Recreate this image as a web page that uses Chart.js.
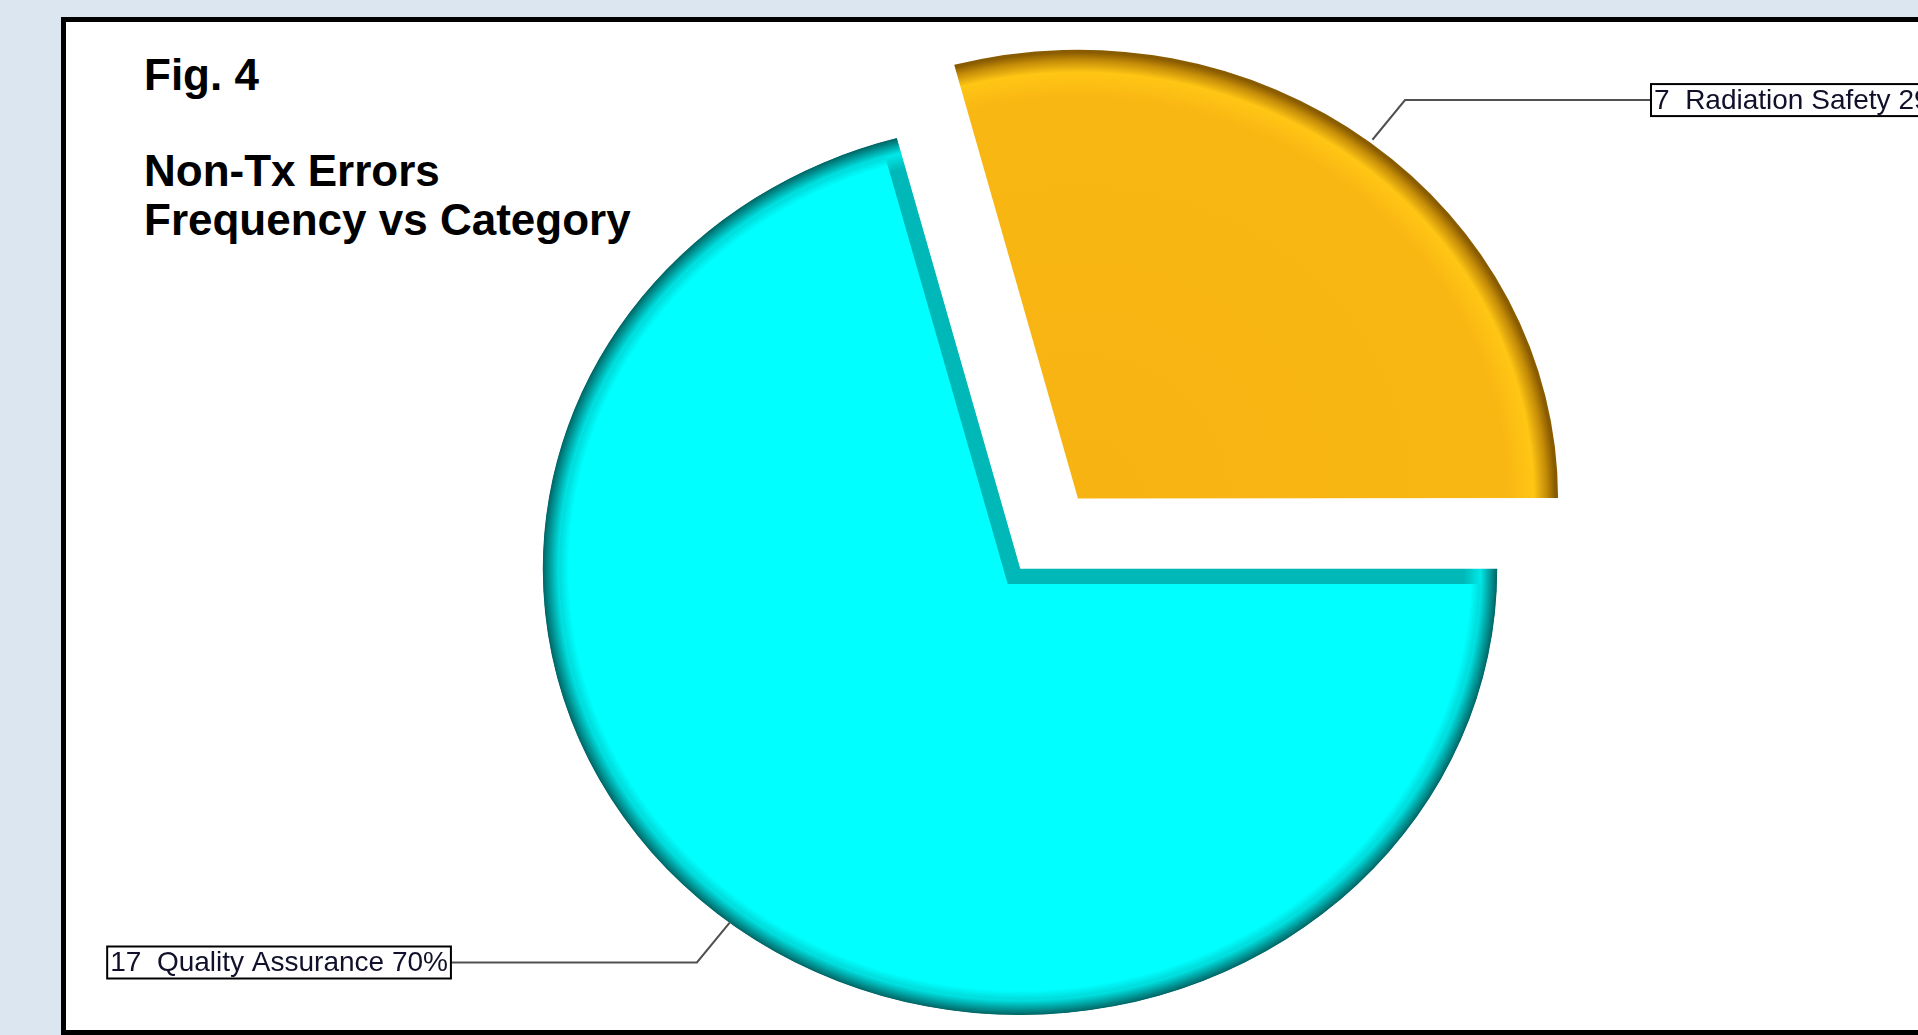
<!DOCTYPE html>
<html>
<head>
<meta charset="utf-8">
<title>Fig. 4 - Non-Tx Errors</title>
<script src="https://cdn.jsdelivr.net/npm/chart.js@4.4.1/dist/chart.umd.min.js"></script>
<style>
  html, body { margin: 0; padding: 0; width: 1918px; height: 1035px; overflow: hidden; background: #dce6f1; }
  #frame { position: absolute; left: 61px; top: 17px; width: 2000px; height: 1018px; box-sizing: border-box; border: 5px solid #000; background: #fff; }
  .title { position: absolute; left: 144px; font-family: "Liberation Sans", Arial, sans-serif; font-weight: bold; font-size: 44px; line-height: 44px; color: #000; white-space: nowrap; }
  #chartBox { position: absolute; left: 0; top: 0; width: 1918px; height: 1035px; }
</style>
</head>
<body>
<div id="frame"></div>
<div class="title" style="top:53px">Fig. 4</div>
<div class="title" style="top:149px">Non-Tx Errors</div>
<div class="title" style="top:198px">Frequency vs Category</div>
<div id="chartBox"><canvas id="pieChart"></canvas></div>

<script>
const categories = ['Radiation Safety', 'Quality Assurance'];
const errorCounts = [7, 17];

const R = 446;          // pie radius
const stretchX = 1.07;  // the original pie is a little wider than tall

// shaded fill, darker at the rim like the old 3D pie
function sliceFill(context) {
  const chart = context.chart;
  const area = chart.chartArea;
  if (!area) return '#ccc';
  const cx = (area.left + area.right) / 2;
  const cy = (area.top + area.bottom) / 2;
  const g = chart.ctx.createRadialGradient(cx, cy, 0, cx, cy, R);
  if (context.dataIndex === 0) {
    g.addColorStop(0, '#f7b312');
    g.addColorStop(0.9, '#f9b713');
    g.addColorStop(0.955, '#ffc614');
    g.addColorStop(0.982, '#c48c08');
    g.addColorStop(1, '#8a5c00');
  } else {
    g.addColorStop(0, '#00ffff');
    g.addColorStop(0.945, '#00ffff');
    g.addColorStop(0.978, '#00c4c4');
    g.addColorStop(1, '#006a6a');
  }
  return g;
}

// teal side band on the cyan slice edges
function sliceBorder(context) {
  const chart = context.chart;
  const area = chart.chartArea;
  if (!area) return '#0bb';
  const cx = (area.left + area.right) / 2;
  const cy = (area.top + area.bottom) / 2;
  const g = chart.ctx.createRadialGradient(cx, cy, 0, cx, cy, R);
  g.addColorStop(0, '#00b8b8');
  g.addColorStop(0.93, '#00b8b8');
  g.addColorStop(0.965, '#00e8e8');
  g.addColorStop(0.982, '#00a8a8');
  g.addColorStop(1, '#006464');
  return g;
}

const stretchPlugin = {
  id: 'stretch',
  beforeDatasetsDraw(chart) {
    const a = chart.chartArea;
    const cx = (a.left + a.right) / 2;
    chart.ctx.save();
    chart.ctx.translate(cx, 0);
    chart.ctx.scale(stretchX, 1);
    chart.ctx.translate(-cx, 0);
  },
  afterDatasetsDraw(chart) {
    chart.ctx.restore();
  }
};

// boxed labels with elbow leader lines
const calloutPlugin = {
  id: 'callouts',
  afterDraw(chart) {
    const ctx = chart.ctx;
    const meta = chart.getDatasetMeta(0);
    const total = errorCounts.reduce((a, b) => a + b, 0);
    meta.data.forEach((arc, i) => {
      const p = arc.getProps(['x', 'y', 'startAngle', 'endAngle', 'outerRadius', 'circumference']);
      const mid = (p.startAngle + p.endAngle) / 2;
      const off = (arc.options.offset || 0) / 4;
      const fix = 1 - Math.sin(Math.min(Math.PI, p.circumference));
      const dist = off + off * fix + p.outerRadius + off * fix;
      const ax = p.x + Math.cos(mid) * dist * stretchX;
      const ay = p.y + Math.sin(mid) * dist;
      const ex = ax + Math.cos(mid) * 50 * stretchX;
      const ey = ay + Math.sin(mid) * 50;
      const dir = Math.cos(mid) > 0 ? 1 : -1;
      const hx = ex + dir * 246;

      ctx.save();
      ctx.strokeStyle = '#505050';
      ctx.lineWidth = 2;
      ctx.beginPath();
      ctx.moveTo(ax, ay);
      ctx.lineTo(ex, ey);
      ctx.lineTo(hx, ey);
      ctx.stroke();

      const pct = Math.floor(errorCounts[i] / total * 100);
      const text = errorCounts[i] + '  ' + categories[i] + ' ' + pct + '%';
      ctx.font = '28px "Liberation Sans", Arial, sans-serif';
      const w = ctx.measureText(text).width + 6;
      const h = 32;
      const bx = dir > 0 ? hx : hx - w;
      const by = ey - h / 2;
      ctx.fillStyle = '#fff';
      ctx.fillRect(bx, by, w, h);
      ctx.strokeStyle = '#000';
      ctx.strokeRect(bx, by, w, h);
      ctx.fillStyle = '#10102a';
      ctx.textBaseline = 'middle';
      ctx.fillText(text, bx + 3, ey + 1);
      ctx.restore();
    });
  }
};

const ctx = document.getElementById('pieChart').getContext('2d');
const chart = new Chart(ctx, {
  type: 'pie',
  data: {
    labels: categories,
    datasets: [{
      data: errorCounts,
      backgroundColor: sliceFill,
      borderColor: sliceBorder,
      borderWidth: [0, 15],
      borderAlign: 'inner',
      borderJoinStyle: 'miter',
      offset: [356, 0],
      clip: false
    }]
  },
  options: {
    responsive: true,
    maintainAspectRatio: false,
    devicePixelRatio: 1,
    animation: false,
    events: [],
    rotation: -15,
    radius: R,
    layout: { padding: { left: 122, top: 103, right: 0, bottom: 0 } },
    plugins: {
      legend: { display: false },
      tooltip: { enabled: false }
    }
  },
  plugins: [stretchPlugin, calloutPlugin]
});
</script>
</body>
</html>
